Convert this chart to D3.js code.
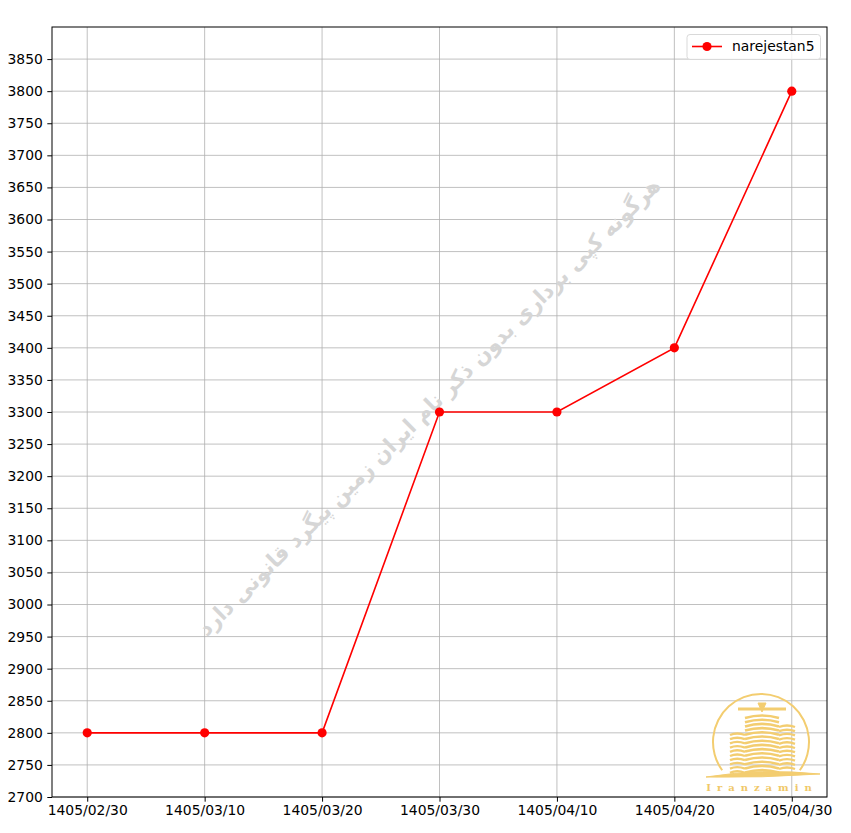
<!DOCTYPE html>
<html><head><meta charset="utf-8">
<script src="https://cdn.jsdelivr.net/npm/d3@7"></script>
<style>body{margin:0;background:#fff}svg{display:block}</style>
</head><body>
<script>
const categories = ["1405/02/30","1405/03/10","1405/03/20","1405/03/30","1405/04/10","1405/04/20","1405/04/30"];
const values = [2800,2800,2800,3300,3300,3400,3800];
const yTicks = [2700,2750,2800,2850,2900,2950,3000,3050,3100,3150,3200,3250,3300,3350,3400,3450,3500,3550,3600,3650,3700,3750,3800,3850];
const seriesName = "narejestan5";
const watermark = "هرگونه کپی برداری بدون ذکر نام ایران زمین پیگرد قانونی دارد";

const W=851,H=833, L=52, T=27, R=827, B=797;
const svg=d3.select("body").append("svg").attr("width",W).attr("height",H)
  .style("font-family","DejaVu Sans, sans-serif");
const x=d3.scaleLinear().domain([-0.3,6.3]).range([L,R]);
const y=d3.scaleLinear().domain([2700,3900]).range([B,T]);

// grid
const g=svg.append("g");
g.selectAll(".gx").data(categories).join("line")
  .attr("x1",(d,i)=>x(i)).attr("x2",(d,i)=>x(i)).attr("y1",T).attr("y2",B)
  .attr("stroke","#b0b0b0").attr("stroke-width",0.8);
g.selectAll(".gy").data(yTicks).join("line")
  .attr("x1",L).attr("x2",R).attr("y1",d=>y(d)).attr("y2",d=>y(d))
  .attr("stroke","#b0b0b0").attr("stroke-width",0.8);

// watermark
svg.append("text").attr("transform","translate(430,408) rotate(-44.7)")
  .attr("text-anchor","middle").attr("dominant-baseline","middle")
  .attr("font-size",22).attr("font-weight","bold").attr("fill","#d6d6d6")
  .attr("direction","rtl").attr("textLength",640).attr("lengthAdjust","spacingAndGlyphs")
  .text(watermark);

// logo
const logo=svg.append("g").attr("fill","none").attr("stroke","#f3cd70");
logo.append("path").attr("d",d3.arc()({innerRadius:47,outerRadius:49,startAngle:-2.2,endAngle:2.2}))
  .attr("transform","translate(761,742)").attr("fill","#f3cd70").attr("stroke","none");
const bars=[0,1,2,3,4,5,6,7,8,9,10,11,12,13];
logo.selectAll(".b1").data(bars).join("path")
  .attr("d",d=>{const yy=718+d*4.2;return `M745,${yy} Q762,${yy-5} 779,${yy}`;})
  .attr("stroke-width",2.6);
logo.selectAll(".b2").data(bars.slice(0,10)).join("path")
  .attr("d",d=>{const yy=735+d*4.2;return `M730,${yy} Q737,${yy-3} 745,${yy}`;})
  .attr("stroke-width",2.4);
logo.selectAll(".b3").data(bars.slice(0,11)).join("path")
  .attr("d",d=>{const yy=727+d*4.2;return `M779,${yy} Q787,${yy-3} 795,${yy}`;})
  .attr("stroke-width",2.4);
logo.append("path").attr("d","M738,709 L786,709").attr("stroke-width",3);
logo.append("path").attr("d","M758,703 L766,703 L762,712 Z").attr("fill","#f3cd70");
logo.append("path").attr("d","M706,777 Q762,768 820,774 Q762,778 706,777 Z").attr("fill","#f3cd70");
svg.append("text").attr("x",762).attr("y",791).attr("text-anchor","middle")
  .attr("font-size",10).attr("font-family","DejaVu Serif, serif").attr("font-weight","bold")
  .attr("letter-spacing",6).attr("fill","#f0c868").text("Iranzamin");

// line
svg.append("path").datum(values)
  .attr("d",d3.line().x((d,i)=>x(i)).y(d=>y(d)))
  .attr("fill","none").attr("stroke","#ff0000").attr("stroke-width",1.6);
svg.selectAll(".pt").data(values).join("circle")
  .attr("cx",(d,i)=>x(i)).attr("cy",d=>y(d)).attr("r",4.6).attr("fill","#ff0000");

// frame
svg.append("rect").attr("x",L).attr("y",T).attr("width",R-L).attr("height",B-T)
  .attr("fill","none").attr("stroke","#000").attr("stroke-width",1);

// axes
const xa=svg.append("g").attr("transform",`translate(0,${B})`)
  .call(d3.axisBottom(x).tickValues(d3.range(categories.length)).tickFormat(i=>categories[i]).tickSize(4.7).tickPadding(3));
const ya=svg.append("g").attr("transform",`translate(${L},0)`)
  .call(d3.axisLeft(y).tickValues(yTicks).tickFormat(d3.format("d")).tickSize(4.7).tickPadding(4.5));
[xa,ya].forEach(a=>{a.select(".domain").remove();
  a.selectAll("text").attr("font-size",13.9).attr("font-family","DejaVu Sans, sans-serif").attr("fill","#000");
  a.selectAll("line").attr("stroke","#000");});

// legend
const lg=svg.append("g");
lg.append("rect").attr("x",687).attr("y",34.5).attr("width",133.5).attr("height",25).attr("rx",3)
  .attr("fill","#fff").attr("fill-opacity",0.8).attr("stroke","#d9d9d9");
lg.append("line").attr("x1",692).attr("x2",722).attr("y1",46.5).attr("y2",46.5).attr("stroke","#ff0000").attr("stroke-width",1.6);
lg.append("circle").attr("cx",707).attr("cy",46.5).attr("r",4.6).attr("fill","#ff0000");
lg.append("text").attr("x",732).attr("y",51).attr("font-size",13.9).attr("fill","#000").text(seriesName);
</script>
</body></html>
